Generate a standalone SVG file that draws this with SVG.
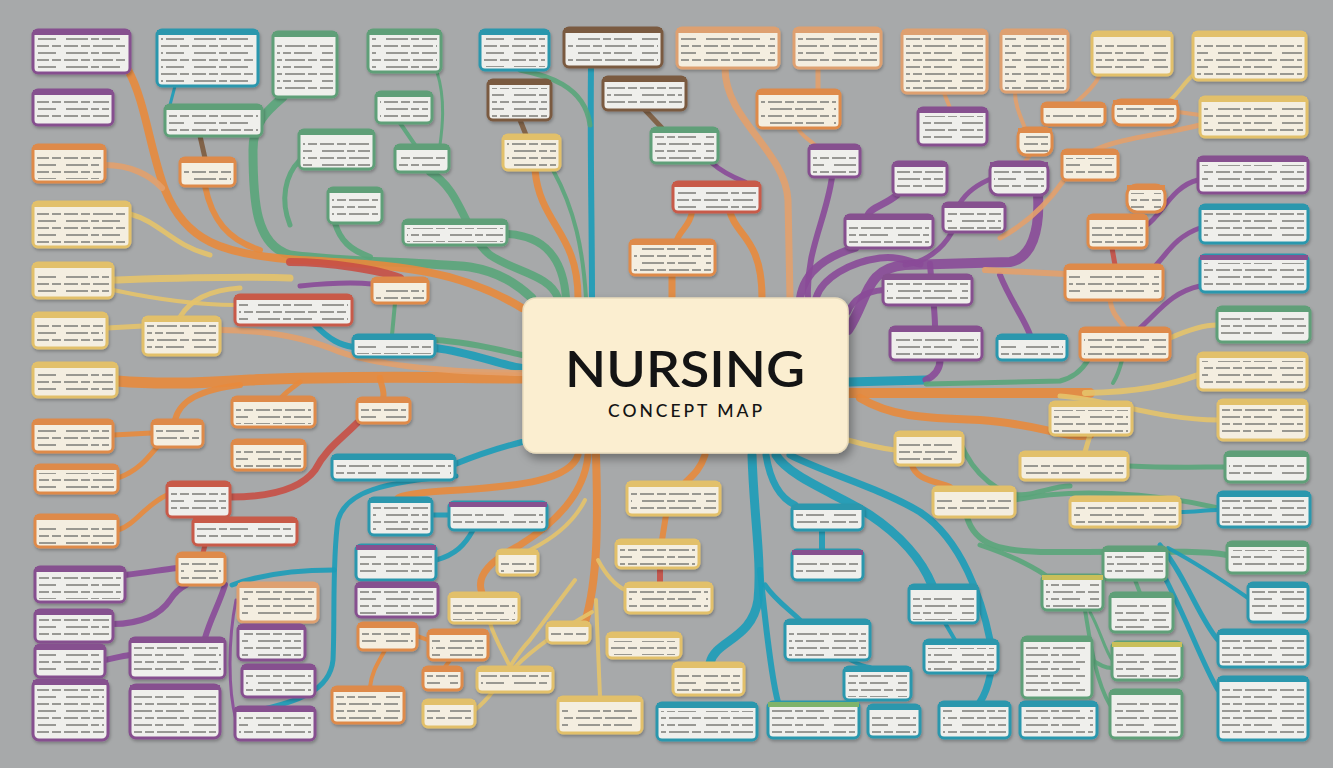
<svg xmlns="http://www.w3.org/2000/svg" width="1333" height="768" viewBox="0 0 1333 768">
<defs>
<pattern id="tp" width="64" height="14" patternUnits="userSpaceOnUse"><path d="M0 4h14M17 4h9M29 4h20M52 4h9M2 11h22M27 11h8M38 11h18" stroke="#7b7b78" stroke-width="1.6"/></pattern>
<filter id="sh" x="-10%" y="-10%" width="125%" height="130%"><feDropShadow dx="3" dy="5" stdDeviation="5" flood-color="#000" flood-opacity="0.35"/></filter>
<filter id="ss" x="-10%" y="-10%" width="125%" height="140%"><feDropShadow dx="1" dy="2" stdDeviation="1.5" flood-color="#000" flood-opacity="0.25"/></filter>
</defs>
<style>
.bx{fill:#efefec;stroke:var(--c);stroke-width:3;filter:url(#ss)}
.y .bx,.pe .bx,.o .bx{fill:#f4eee0}
.hd{fill:var(--c)}
.tx{fill:url(#tp)}
.p{--c:#86508f}.t{--c:#2b97ad}.g{--c:#5f9f78}.o{--c:#de8a4a}.pe{--c:#dea070}.y{--c:#e2c06a}.b{--c:#7a5a40}.r{--c:#c85a48}
.k path{fill:none;stroke-linecap:round;opacity:.9}
.co{stroke:#e8893c}.cy{stroke:#e6c36a}.cg{stroke:#5aa57a}.ct{stroke:#1c9cb8}.cp{stroke:#8a4a98}.cr{stroke:#c84f45}.cb{stroke:#7d5b3e}.cpe{stroke:#e3a06c}
.w3{stroke-width:3}.w4{stroke-width:4}.w5{stroke-width:5}.w6{stroke-width:6}.w7{stroke-width:7}.w8{stroke-width:8}.w9{stroke-width:9}.w10{stroke-width:10}.w11{stroke-width:11}
.ti{font-family:Lato,"Open Sans","Liberation Sans",sans-serif;fill:#141414;text-anchor:middle}
</style>
<rect width="1333" height="768" fill="#a7a9aa"/>
<g id="connectors" class="k">
<path class="ct w6" d="M591,67 C590,150 592,230 592,298"/>
<path class="cg w5" d="M520,70 C545,75 585,85 590,125"/>
<path class="cb w5" d="M520,120 L526,135"/>
<path class="co w7" d="M535,170 C540,225 578,232 578,298"/>
<path class="cg w4" d="M553,170 C575,210 583,250 586,298"/>
<path class="cg w8" d="M507,234 C545,236 563,258 566,298"/>
<path class="cg w8" d="M430,172 C462,190 465,235 490,255 C515,272 550,275 558,298"/>
<path class="cg w9" d="M283,97 C268,110 253,122 253,150 C253,200 255,245 290,255 C340,262 420,262 470,267 C500,272 518,285 532,298"/>
<path class="cg w5" d="M262,122 L254,132"/>
<path class="cg w6" d="M335,223 C340,240 350,250 370,257"/>
<path class="cg w5" d="M300,160 C285,175 280,200 290,225"/>
<path class="cg w4" d="M400,123 L415,145"/>
<path class="cg w3" d="M437,72 C446,100 442,130 440,145"/>
<path class="cb w5" d="M645,110 L662,128"/>
<path class="cp w5" d="M712,163 C722,172 735,178 745,182"/>
<path class="co w6" d="M692,212 C690,226 680,230 677,240"/>
<path class="co w7" d="M672,275 L672,298"/>
<path class="co w7" d="M730,212 C736,236 762,238 762,298"/>
<path class="cpe w7" d="M725,68 C725,120 785,150 788,200 L790,298"/>
<path class="cpe w5" d="M818,68 L818,90"/>
<path class="cpe w4" d="M798,128 C800,135 810,140 815,145"/>
<path class="cp w6" d="M832,177 C826,220 806,250 808,298"/>
<path class="cp w8" d="M800,298 C804,270 830,255 855,248"/>
<path class="cp w7" d="M816,298 C822,278 850,262 880,258 C900,256 910,262 920,264"/>
<path class="cp w10" d="M848,330 C868,300 865,268 905,265 L1010,262 C1032,258 1040,230 1038,195"/>
<path class="cp w7" d="M897,195 C885,205 870,208 868,215"/>
<path class="cp w5" d="M993,178 C975,185 965,195 960,203"/>
<path class="cp w5" d="M952,232 C942,250 925,262 905,265"/>
<path class="cp w6" d="M883,290 C862,292 852,302 848,312"/>
<path class="cp w6" d="M930,264 C932,290 935,310 935,327"/>
<path class="cp w5" d="M1198,180 C1172,186 1162,215 1147,225"/>
<path class="cp w5" d="M1200,228 C1176,236 1166,255 1156,265"/>
<path class="cp w5" d="M1200,286 C1172,292 1160,310 1140,328"/>
<path class="cp w6" d="M1000,275 C1010,300 1025,320 1030,335"/>
<path class="cpe w6" d="M985,270 L1065,274"/>
<path class="cpe w4" d="M1025,128 C1020,115 1015,105 1015,92"/>
<path class="cy w4" d="M1197,72 C1185,80 1180,92 1170,100"/>
<path class="cpe w4" d="M1178,112 L1200,115"/>
<path class="cpe w5" d="M1200,125 C1160,135 1120,138 1095,150"/>
<path class="cpe w4" d="M944,93 L950,108"/>
<path class="cpe w4" d="M1100,75 C1095,85 1085,95 1075,103"/>
<path class="cpe w5" d="M1000,238 C1030,222 1050,200 1064,180"/>
<path class="cpe w4" d="M1030,155 L1025,162"/>
<path class="cr w5" d="M1112,248 L1115,265"/>
<path class="cpe w5" d="M1110,300 C1112,315 1120,320 1125,328"/>
<path class="cy w5" d="M1170,338 C1188,330 1203,325 1217,325"/>
<path class="ct w9" d="M848,382 L926,380"/>
<path class="cp w7" d="M926,380 C936,375 940,368 940,360"/>
<path class="cg w5" d="M926,384 L1060,381 C1072,378 1082,370 1088,360"/>
<path class="cg w4" d="M1113,383 C1118,375 1120,368 1122,360"/>
<path class="co w10" d="M848,393 L1090,393"/>
<path class="cy w6" d="M1085,393 C1140,392 1170,385 1198,375"/>
<path class="cy w5" d="M1060,396 C1110,400 1160,420 1218,420"/>
<path class="co w8" d="M860,398 C890,416 920,418 980,420 C1040,424 1070,440 1090,435"/>
<path class="cy w5" d="M1090,435 L1085,452"/>
<path class="cy w5" d="M848,440 C865,445 880,448 895,450"/>
<path class="co w6" d="M912,465 C916,480 936,481 950,487"/>
<path class="cg w5" d="M960,442 C972,472 1000,500 1030,494 C1048,490 1058,486 1070,486"/>
<path class="cg w5" d="M1128,466 C1170,468 1200,467 1225,467"/>
<path class="cg w5" d="M1015,500 C1070,488 1150,492 1218,508"/>
<path class="cg w6" d="M967,517 C975,545 1000,552 1050,552 C1150,552 1200,550 1227,555"/>
<path class="ct w4" d="M1180,512 C1195,512 1205,510 1218,510"/>
<path class="cg w5" d="M980,545 C1010,555 1030,565 1045,575"/>
<path class="cg w4" d="M1135,580 L1140,593"/>
<path class="cg w4" d="M1085,610 C1090,640 1095,680 1110,705"/>
<path class="cg w3" d="M1090,612 C1100,630 1105,650 1112,660"/>
<path class="ct w5" d="M1160,545 C1185,575 1200,620 1218,640"/>
<path class="ct w4" d="M1168,548 C1200,565 1222,580 1248,598"/>
<path class="ct w5" d="M1150,550 C1180,600 1200,660 1218,690"/>
<path class="cg w4" d="M1092,660 C1100,665 1105,668 1112,668"/>
<path class="ct w9" d="M752,455 C754,520 762,560 758,600 C752,640 715,640 710,663"/>
<path class="ct w6" d="M760,570 C765,620 772,680 778,702"/>
<path class="ct w7" d="M766,455 C770,480 780,498 795,505"/>
<path class="ct w9" d="M776,455 C790,478 840,495 870,515 C900,535 922,560 932,585"/>
<path class="ct w7" d="M790,455 C822,472 880,488 920,512 C962,540 982,600 990,640 C996,662 988,690 980,702"/>
<path class="ct w6" d="M822,530 L822,550"/>
<path class="ct w5" d="M765,585 C775,600 790,610 800,620"/>
<path class="ct w4" d="M850,660 C858,664 864,667 870,667"/>
<path class="ct w4" d="M945,623 L955,640"/>
<path class="co w8" d="M596,455 C598,520 598,580 585,622"/>
<path class="co w7" d="M705,455 C700,470 692,476 686,482"/>
<path class="co w6" d="M666,515 L662,540"/>
<path class="cr w6" d="M660,568 L660,583"/>
<path class="co w7" d="M588,455 C585,490 560,520 520,545 C492,560 475,575 482,593"/>
<path class="co w7" d="M578,455 C570,480 520,486 460,490 C420,492 400,495 398,498"/>
<path class="cy w4" d="M596,600 L600,697"/>
<path class="cy w4" d="M598,560 C606,575 615,585 625,590"/>
<path class="cy w4" d="M592,612 C560,630 532,650 515,667"/>
<path class="cy w4" d="M585,500 C570,530 540,545 530,550"/>
<path class="cy w4" d="M475,710 C500,690 510,660 530,640 C545,620 560,600 575,580"/>
<path class="cy w4" d="M490,623 C495,640 505,655 510,667"/>
<path class="ct w6" d="M522,442 C490,450 470,458 455,464"/>
<path class="ct w5" d="M456,476 C382,482 346,492 338,520 C332,560 335,620 333,660 C330,690 300,702 250,712"/>
<path class="ct w5" d="M334,570 C300,570 262,574 232,585"/>
<path class="ct w5" d="M432,515 L449,515"/>
<path class="ct w5" d="M436,560 C455,555 465,545 473,530"/>
<path class="cr w7" d="M230,497 C270,497 300,490 315,470 C325,450 340,440 357,423"/>
<path class="cp w6" d="M125,575 C150,572 160,570 177,568"/>
<path class="cp w6" d="M113,624 C140,624 160,615 170,600 C175,592 180,588 186,585"/>
<path class="cp w6" d="M105,660 C115,658 122,656 130,655"/>
<path class="cp w6" d="M225,585 C220,602 210,620 205,638"/>
<path class="cp w3" d="M236,600 C228,640 228,690 236,720"/>
<path class="cr w5" d="M205,545 L203,553"/>
<path class="co w5" d="M118,530 C135,525 145,505 167,495"/>
<path class="co w5" d="M118,478 C140,470 150,455 157,447"/>
<path class="co w5" d="M113,435 L152,433"/>
<path class="co w6" d="M175,420 C180,400 200,390 240,385"/>
<path class="co w11" d="M522,378 C450,378 350,375 250,380 C180,385 140,383 117,381"/>
<path class="co w5" d="M300,382 C292,388 285,393 282,397"/>
<path class="co w6" d="M380,378 C382,388 385,393 383,398"/>
<path class="co w8" d="M128,70 C145,100 150,150 165,190 C185,240 220,255 300,260 C400,265 460,270 522,308"/>
<path class="co w6" d="M205,186 C212,220 228,240 260,250"/>
<path class="cpe w6" d="M105,165 C130,165 150,175 162,188"/>
<path class="cy w5" d="M130,214 C160,222 172,245 210,255"/>
<path class="cy w7" d="M113,280 C180,278 240,276 290,278"/>
<path class="cy w4" d="M113,290 C160,300 200,305 235,305"/>
<path class="cy w5" d="M107,328 L143,326"/>
<path class="cy w5" d="M180,317 C190,300 210,290 240,288"/>
<path class="cr w8" d="M290,262 C330,262 380,270 400,278"/>
<path class="cp w5" d="M300,286 C330,283 350,282 372,284"/>
<path class="cg w4" d="M395,303 L392,335"/>
<path class="ct w8" d="M435,348 C470,352 500,365 522,368"/>
<path class="ct w6" d="M315,325 C330,340 340,345 353,347"/>
<path class="cg w6" d="M435,340 C470,342 500,350 522,355"/>
<path class="cpe w6" d="M220,330 C260,330 300,335 340,352 C380,366 450,372 522,373"/>
<path class="ct w3" d="M175,86 L170,105"/>
<path class="cb w5" d="M200,136 L205,158"/>
<path class="co w4" d="M370,687 C372,670 380,660 385,650"/>
<path class="co w4" d="M450,660 L445,667"/>
<path class="co w4" d="M417,636 L428,640"/>
</g>
<g id="n1" class="p"><rect class="bx" x="33" y="30" width="97" height="43" rx="5"/><rect class="hd" x="33" y="30" width="97" height="5"/><rect class="tx" x="37" y="38" width="89" height="32"/></g>
<g id="n2" class="t"><rect class="bx" x="157" y="30" width="101" height="56" rx="5"/><rect class="hd" x="157" y="30" width="101" height="5"/><rect class="tx" x="161" y="38" width="93" height="45"/></g>
<g id="n3" class="g"><rect class="bx" x="273" y="32" width="64" height="65" rx="5"/><rect class="hd" x="273" y="32" width="64" height="5"/><rect class="tx" x="277" y="40" width="56" height="54"/></g>
<g id="n4" class="g"><rect class="bx" x="368" y="30" width="73" height="42" rx="5"/><rect class="hd" x="368" y="30" width="73" height="5"/><rect class="tx" x="372" y="38" width="65" height="31"/></g>
<g id="n5" class="t"><rect class="bx" x="480" y="30" width="69" height="40" rx="5"/><rect class="hd" x="480" y="30" width="69" height="5"/><rect class="tx" x="484" y="38" width="61" height="29"/></g>
<g id="n6" class="b"><rect class="bx" x="564" y="28" width="98" height="39" rx="5"/><rect class="hd" x="564" y="28" width="98" height="5"/><rect class="tx" x="568" y="36" width="90" height="28"/></g>
<g id="n7" class="pe"><rect class="bx" x="677" y="28" width="102" height="40" rx="5"/><rect class="hd" x="677" y="28" width="102" height="5"/><rect class="tx" x="681" y="36" width="94" height="29"/></g>
<g id="n8" class="pe"><rect class="bx" x="794" y="28" width="87" height="40" rx="5"/><rect class="hd" x="794" y="28" width="87" height="5"/><rect class="tx" x="798" y="36" width="79" height="29"/></g>
<g id="n9" class="pe"><rect class="bx" x="902" y="30" width="85" height="63" rx="5"/><rect class="hd" x="902" y="30" width="85" height="5"/><rect class="tx" x="906" y="38" width="77" height="52"/></g>
<g id="n10" class="pe"><rect class="bx" x="1001" y="30" width="67" height="62" rx="5"/><rect class="hd" x="1001" y="30" width="67" height="5"/><rect class="tx" x="1005" y="38" width="59" height="51"/></g>
<g id="n11" class="y"><rect class="bx" x="1092" y="32" width="80" height="43" rx="5"/><rect class="hd" x="1092" y="32" width="80" height="5"/><rect class="tx" x="1096" y="40" width="72" height="32"/></g>
<g id="n12" class="y"><rect class="bx" x="1193" y="32" width="113" height="48" rx="5"/><rect class="hd" x="1193" y="32" width="113" height="5"/><rect class="tx" x="1197" y="40" width="105" height="37"/></g>
<g id="n13" class="p"><rect class="bx" x="33" y="90" width="80" height="35" rx="5"/><rect class="hd" x="33" y="90" width="80" height="5"/><rect class="tx" x="37" y="98" width="72" height="24"/></g>
<g id="n14" class="g"><rect class="bx" x="165" y="105" width="97" height="31" rx="5"/><rect class="hd" x="165" y="105" width="97" height="5"/><rect class="tx" x="169" y="113" width="89" height="20"/></g>
<g id="n15" class="g"><rect class="bx" x="376" y="92" width="56" height="31" rx="5"/><rect class="hd" x="376" y="92" width="56" height="5"/><rect class="tx" x="380" y="100" width="48" height="20"/></g>
<g id="n16" class="b"><rect class="bx" x="488" y="80" width="63" height="40" rx="5"/><rect class="hd" x="488" y="80" width="63" height="5"/><rect class="tx" x="492" y="88" width="55" height="29"/></g>
<g id="n17" class="b"><rect class="bx" x="603" y="77" width="83" height="33" rx="5"/><rect class="hd" x="603" y="77" width="83" height="5"/><rect class="tx" x="607" y="85" width="75" height="22"/></g>
<g id="n18" class="o"><rect class="bx" x="757" y="90" width="83" height="38" rx="5"/><rect class="hd" x="757" y="90" width="83" height="5"/><rect class="tx" x="761" y="98" width="75" height="27"/></g>
<g id="n19" class="p"><rect class="bx" x="918" y="108" width="69" height="37" rx="5"/><rect class="hd" x="918" y="108" width="69" height="5"/><rect class="tx" x="922" y="116" width="61" height="26"/></g>
<g id="n20" class="o"><rect class="bx" x="1042" y="103" width="63" height="22" rx="5"/><rect class="hd" x="1042" y="103" width="63" height="5"/><rect class="tx" x="1046" y="111" width="55" height="11"/></g>
<g id="n21" class="o"><rect class="bx" x="1113" y="100" width="65" height="25" rx="8"/><rect class="hd" x="1113" y="100" width="65" height="5"/><rect class="tx" x="1117" y="108" width="57" height="14"/></g>
<g id="n22" class="y"><rect class="bx" x="1200" y="97" width="107" height="40" rx="5"/><rect class="hd" x="1200" y="97" width="107" height="5"/><rect class="tx" x="1204" y="105" width="99" height="29"/></g>
<g id="n23" class="o"><rect class="bx" x="1018" y="128" width="34" height="27" rx="8"/><rect class="hd" x="1018" y="128" width="34" height="5"/><rect class="tx" x="1022" y="136" width="26" height="16"/></g>
<g id="n24" class="o"><rect class="bx" x="33" y="145" width="72" height="37" rx="5"/><rect class="hd" x="33" y="145" width="72" height="5"/><rect class="tx" x="37" y="153" width="64" height="26"/></g>
<g id="n25" class="o"><rect class="bx" x="180" y="158" width="55" height="28" rx="5"/><rect class="hd" x="180" y="158" width="55" height="5"/><rect class="tx" x="184" y="166" width="47" height="17"/></g>
<g id="n26" class="g"><rect class="bx" x="299" y="130" width="75" height="39" rx="5"/><rect class="hd" x="299" y="130" width="75" height="5"/><rect class="tx" x="303" y="138" width="67" height="28"/></g>
<g id="n27" class="g"><rect class="bx" x="395" y="145" width="54" height="27" rx="5"/><rect class="hd" x="395" y="145" width="54" height="5"/><rect class="tx" x="399" y="153" width="46" height="16"/></g>
<g id="n28" class="y"><rect class="bx" x="503" y="135" width="57" height="35" rx="5"/><rect class="hd" x="503" y="135" width="57" height="5"/><rect class="tx" x="507" y="143" width="49" height="24"/></g>
<g id="n29" class="g"><rect class="bx" x="651" y="128" width="67" height="35" rx="5"/><rect class="hd" x="651" y="128" width="67" height="5"/><rect class="tx" x="655" y="136" width="59" height="24"/></g>
<g id="n30" class="p"><rect class="bx" x="809" y="145" width="51" height="32" rx="5"/><rect class="hd" x="809" y="145" width="51" height="5"/><rect class="tx" x="813" y="153" width="43" height="21"/></g>
<g id="n31" class="p"><rect class="bx" x="893" y="162" width="54" height="33" rx="5"/><rect class="hd" x="893" y="162" width="54" height="5"/><rect class="tx" x="897" y="170" width="46" height="22"/></g>
<g id="n32" class="p"><rect class="bx" x="990" y="162" width="58" height="33" rx="8"/><rect class="hd" x="990" y="162" width="58" height="5"/><rect class="tx" x="994" y="170" width="50" height="22"/></g>
<g id="n33" class="o"><rect class="bx" x="1062" y="150" width="56" height="30" rx="5"/><rect class="hd" x="1062" y="150" width="56" height="5"/><rect class="tx" x="1066" y="158" width="48" height="19"/></g>
<g id="n34" class="o"><rect class="bx" x="1127" y="185" width="38" height="27" rx="10"/><rect class="hd" x="1127" y="185" width="38" height="5"/><rect class="tx" x="1131" y="193" width="30" height="16"/></g>
<g id="n35" class="p"><rect class="bx" x="1198" y="157" width="110" height="36" rx="5"/><rect class="hd" x="1198" y="157" width="110" height="5"/><rect class="tx" x="1202" y="165" width="102" height="25"/></g>
<g id="n36" class="r"><rect class="bx" x="673" y="182" width="87" height="30" rx="5"/><rect class="hd" x="673" y="182" width="87" height="5"/><rect class="tx" x="677" y="190" width="79" height="19"/></g>
<g id="n37" class="g"><rect class="bx" x="328" y="188" width="54" height="35" rx="5"/><rect class="hd" x="328" y="188" width="54" height="5"/><rect class="tx" x="332" y="196" width="46" height="24"/></g>
<g id="n38" class="g"><rect class="bx" x="403" y="220" width="104" height="25" rx="5"/><rect class="hd" x="403" y="220" width="104" height="5"/><rect class="tx" x="407" y="228" width="96" height="14"/></g>
<g id="n39" class="y"><rect class="bx" x="33" y="202" width="97" height="45" rx="5"/><rect class="hd" x="33" y="202" width="97" height="5"/><rect class="tx" x="37" y="210" width="89" height="34"/></g>
<g id="n40" class="p"><rect class="bx" x="845" y="215" width="88" height="33" rx="5"/><rect class="hd" x="845" y="215" width="88" height="5"/><rect class="tx" x="849" y="223" width="80" height="22"/></g>
<g id="n41" class="p"><rect class="bx" x="943" y="203" width="62" height="29" rx="5"/><rect class="hd" x="943" y="203" width="62" height="5"/><rect class="tx" x="947" y="211" width="54" height="18"/></g>
<g id="n42" class="o"><rect class="bx" x="1088" y="215" width="59" height="33" rx="5"/><rect class="hd" x="1088" y="215" width="59" height="5"/><rect class="tx" x="1092" y="223" width="51" height="22"/></g>
<g id="n43" class="t"><rect class="bx" x="1200" y="205" width="108" height="38" rx="5"/><rect class="hd" x="1200" y="205" width="108" height="5"/><rect class="tx" x="1204" y="213" width="100" height="27"/></g>
<g id="n44" class="o"><rect class="bx" x="630" y="240" width="85" height="35" rx="5"/><rect class="hd" x="630" y="240" width="85" height="5"/><rect class="tx" x="634" y="248" width="77" height="24"/></g>
<g id="n45" class="t"><rect class="bx" x="1200" y="255" width="108" height="37" rx="5"/><rect class="hd" x="1200" y="255" width="108" height="5" style="fill:#86508f"/><rect class="tx" x="1204" y="263" width="100" height="26"/></g>
<g id="n46" class="y"><rect class="bx" x="33" y="263" width="80" height="35" rx="5"/><rect class="hd" x="33" y="263" width="80" height="5"/><rect class="tx" x="37" y="271" width="72" height="24"/></g>
<g id="n47" class="o"><rect class="bx" x="1065" y="265" width="98" height="35" rx="5"/><rect class="hd" x="1065" y="265" width="98" height="5"/><rect class="tx" x="1069" y="273" width="90" height="24"/></g>
<g id="n48" class="p"><rect class="bx" x="883" y="275" width="89" height="30" rx="5"/><rect class="hd" x="883" y="275" width="89" height="5"/><rect class="tx" x="887" y="283" width="81" height="19"/></g>
<g id="n49" class="o"><rect class="bx" x="372" y="278" width="56" height="25" rx="5"/><rect class="hd" x="372" y="278" width="56" height="5"/><rect class="tx" x="376" y="286" width="48" height="14"/></g>
<g id="n50" class="r"><rect class="bx" x="235" y="295" width="117" height="30" rx="5"/><rect class="hd" x="235" y="295" width="117" height="5"/><rect class="tx" x="239" y="303" width="109" height="19"/></g>
<g id="n51" class="g"><rect class="bx" x="1217" y="307" width="93" height="35" rx="5"/><rect class="hd" x="1217" y="307" width="93" height="5"/><rect class="tx" x="1221" y="315" width="85" height="24"/></g>
<g id="n52" class="y"><rect class="bx" x="33" y="313" width="74" height="35" rx="5"/><rect class="hd" x="33" y="313" width="74" height="5"/><rect class="tx" x="37" y="321" width="66" height="24"/></g>
<g id="n53" class="y"><rect class="bx" x="143" y="317" width="77" height="38" rx="5"/><rect class="hd" x="143" y="317" width="77" height="5"/><rect class="tx" x="147" y="325" width="69" height="27"/></g>
<g id="n54" class="p"><rect class="bx" x="890" y="327" width="92" height="33" rx="5"/><rect class="hd" x="890" y="327" width="92" height="5"/><rect class="tx" x="894" y="335" width="84" height="22"/></g>
<g id="n55" class="t"><rect class="bx" x="997" y="335" width="70" height="25" rx="5"/><rect class="hd" x="997" y="335" width="70" height="5"/><rect class="tx" x="1001" y="343" width="62" height="14"/></g>
<g id="n56" class="o"><rect class="bx" x="1080" y="328" width="90" height="32" rx="5"/><rect class="hd" x="1080" y="328" width="90" height="5"/><rect class="tx" x="1084" y="336" width="82" height="21"/></g>
<g id="n57" class="t"><rect class="bx" x="353" y="335" width="82" height="22" rx="5"/><rect class="hd" x="353" y="335" width="82" height="5"/><rect class="tx" x="357" y="343" width="74" height="11"/></g>
<g id="n58" class="y"><rect class="bx" x="33" y="363" width="84" height="34" rx="5"/><rect class="hd" x="33" y="363" width="84" height="5"/><rect class="tx" x="37" y="371" width="76" height="23"/></g>
<g id="n59" class="y"><rect class="bx" x="1198" y="353" width="109" height="37" rx="5"/><rect class="hd" x="1198" y="353" width="109" height="5"/><rect class="tx" x="1202" y="361" width="101" height="26"/></g>
<g id="n60" class="o"><rect class="bx" x="232" y="397" width="83" height="30" rx="5"/><rect class="hd" x="232" y="397" width="83" height="5"/><rect class="tx" x="236" y="405" width="75" height="19"/></g>
<g id="n61" class="o"><rect class="bx" x="357" y="398" width="53" height="25" rx="5"/><rect class="hd" x="357" y="398" width="53" height="5"/><rect class="tx" x="361" y="406" width="45" height="14"/></g>
<g id="n62" class="y"><rect class="bx" x="1218" y="400" width="89" height="40" rx="5"/><rect class="hd" x="1218" y="400" width="89" height="5"/><rect class="tx" x="1222" y="408" width="81" height="29"/></g>
<g id="n63" class="y"><rect class="bx" x="1050" y="402" width="82" height="33" rx="5"/><rect class="hd" x="1050" y="402" width="82" height="5"/><rect class="tx" x="1054" y="410" width="74" height="22"/></g>
<g id="n64" class="o"><rect class="bx" x="152" y="420" width="51" height="27" rx="5"/><rect class="hd" x="152" y="420" width="51" height="5"/><rect class="tx" x="156" y="428" width="43" height="16"/></g>
<g id="n65" class="o"><rect class="bx" x="33" y="420" width="80" height="32" rx="5"/><rect class="hd" x="33" y="420" width="80" height="5"/><rect class="tx" x="37" y="428" width="72" height="21"/></g>
<g id="n66" class="y"><rect class="bx" x="895" y="432" width="68" height="33" rx="5"/><rect class="hd" x="895" y="432" width="68" height="5"/><rect class="tx" x="899" y="440" width="60" height="22"/></g>
<g id="n67" class="o"><rect class="bx" x="232" y="440" width="73" height="30" rx="5"/><rect class="hd" x="232" y="440" width="73" height="5"/><rect class="tx" x="236" y="448" width="65" height="19"/></g>
<g id="n68" class="y"><rect class="bx" x="1020" y="452" width="108" height="28" rx="5"/><rect class="hd" x="1020" y="452" width="108" height="5"/><rect class="tx" x="1024" y="460" width="100" height="17"/></g>
<g id="n69" class="g"><rect class="bx" x="1225" y="452" width="83" height="30" rx="5"/><rect class="hd" x="1225" y="452" width="83" height="5"/><rect class="tx" x="1229" y="460" width="75" height="19"/></g>
<g id="n70" class="t"><rect class="bx" x="332" y="455" width="123" height="25" rx="5"/><rect class="hd" x="332" y="455" width="123" height="5"/><rect class="tx" x="336" y="463" width="115" height="14"/></g>
<g id="n71" class="o"><rect class="bx" x="35" y="465" width="83" height="28" rx="5"/><rect class="hd" x="35" y="465" width="83" height="5"/><rect class="tx" x="39" y="473" width="75" height="17"/></g>
<g id="n72" class="y"><rect class="bx" x="933" y="487" width="82" height="30" rx="5"/><rect class="hd" x="933" y="487" width="82" height="5"/><rect class="tx" x="937" y="495" width="74" height="19"/></g>
<g id="n73" class="y"><rect class="bx" x="627" y="482" width="93" height="33" rx="5"/><rect class="hd" x="627" y="482" width="93" height="5"/><rect class="tx" x="631" y="490" width="85" height="22"/></g>
<g id="n74" class="r"><rect class="bx" x="167" y="482" width="63" height="35" rx="5"/><rect class="hd" x="167" y="482" width="63" height="5"/><rect class="tx" x="171" y="490" width="55" height="24"/></g>
<g id="n75" class="y"><rect class="bx" x="1070" y="497" width="110" height="30" rx="5"/><rect class="hd" x="1070" y="497" width="110" height="5"/><rect class="tx" x="1074" y="505" width="102" height="19"/></g>
<g id="n76" class="t"><rect class="bx" x="1218" y="492" width="92" height="35" rx="5"/><rect class="hd" x="1218" y="492" width="92" height="5"/><rect class="tx" x="1222" y="500" width="84" height="24"/></g>
<g id="n77" class="t"><rect class="bx" x="369" y="498" width="63" height="37" rx="5"/><rect class="hd" x="369" y="498" width="63" height="5"/><rect class="tx" x="373" y="506" width="55" height="26"/></g>
<g id="n78" class="t"><rect class="bx" x="449" y="502" width="98" height="28" rx="5"/><rect class="hd" x="449" y="502" width="98" height="5" style="fill:#86508f"/><rect class="tx" x="453" y="510" width="90" height="17"/></g>
<g id="n79" class="t"><rect class="bx" x="792" y="505" width="71" height="25" rx="5"/><rect class="hd" x="792" y="505" width="71" height="5"/><rect class="tx" x="796" y="513" width="63" height="14"/></g>
<g id="n80" class="r"><rect class="bx" x="193" y="518" width="104" height="27" rx="5"/><rect class="hd" x="193" y="518" width="104" height="5"/><rect class="tx" x="197" y="526" width="96" height="16"/></g>
<g id="n81" class="o"><rect class="bx" x="35" y="515" width="83" height="32" rx="5"/><rect class="hd" x="35" y="515" width="83" height="5"/><rect class="tx" x="39" y="523" width="75" height="21"/></g>
<g id="n82" class="t"><rect class="bx" x="356" y="545" width="80" height="35" rx="5"/><rect class="hd" x="356" y="545" width="80" height="5" style="fill:#86508f"/><rect class="tx" x="360" y="553" width="72" height="24"/></g>
<g id="n83" class="y"><rect class="bx" x="497" y="550" width="41" height="25" rx="5"/><rect class="hd" x="497" y="550" width="41" height="5"/><rect class="tx" x="501" y="558" width="33" height="14"/></g>
<g id="n84" class="y"><rect class="bx" x="616" y="540" width="83" height="28" rx="5"/><rect class="hd" x="616" y="540" width="83" height="5"/><rect class="tx" x="620" y="548" width="75" height="17"/></g>
<g id="n85" class="g"><rect class="bx" x="1103" y="547" width="64" height="33" rx="5"/><rect class="hd" x="1103" y="547" width="64" height="5"/><rect class="tx" x="1107" y="555" width="56" height="22"/></g>
<g id="n86" class="t"><rect class="bx" x="792" y="550" width="71" height="30" rx="5"/><rect class="hd" x="792" y="550" width="71" height="5" style="fill:#86508f"/><rect class="tx" x="796" y="558" width="63" height="19"/></g>
<g id="n87" class="g"><rect class="bx" x="1227" y="542" width="81" height="31" rx="5"/><rect class="hd" x="1227" y="542" width="81" height="5"/><rect class="tx" x="1231" y="550" width="73" height="20"/></g>
<g id="n88" class="o"><rect class="bx" x="177" y="553" width="48" height="32" rx="5"/><rect class="hd" x="177" y="553" width="48" height="5"/><rect class="tx" x="181" y="561" width="40" height="21"/></g>
<g id="n89" class="p"><rect class="bx" x="35" y="567" width="90" height="35" rx="5"/><rect class="hd" x="35" y="567" width="90" height="5"/><rect class="tx" x="39" y="575" width="82" height="24"/></g>
<g id="n90" class="g"><rect class="bx" x="1042" y="575" width="61" height="35" rx="5"/><rect class="hd" x="1042" y="575" width="61" height="5" style="fill:#c9bf5a"/><rect class="tx" x="1046" y="583" width="53" height="24"/></g>
<g id="n91" class="pe"><rect class="bx" x="238" y="583" width="80" height="39" rx="5"/><rect class="hd" x="238" y="583" width="80" height="5"/><rect class="tx" x="242" y="591" width="72" height="28"/></g>
<g id="n92" class="p"><rect class="bx" x="356" y="583" width="82" height="34" rx="5"/><rect class="hd" x="356" y="583" width="82" height="5"/><rect class="tx" x="360" y="591" width="74" height="23"/></g>
<g id="n93" class="y"><rect class="bx" x="625" y="583" width="87" height="30" rx="5"/><rect class="hd" x="625" y="583" width="87" height="5"/><rect class="tx" x="629" y="591" width="79" height="19"/></g>
<g id="n94" class="t"><rect class="bx" x="909" y="585" width="69" height="38" rx="5"/><rect class="hd" x="909" y="585" width="69" height="5"/><rect class="tx" x="913" y="593" width="61" height="27"/></g>
<g id="n95" class="y"><rect class="bx" x="449" y="593" width="70" height="30" rx="5"/><rect class="hd" x="449" y="593" width="70" height="5"/><rect class="tx" x="453" y="601" width="62" height="19"/></g>
<g id="n96" class="g"><rect class="bx" x="1110" y="593" width="63" height="39" rx="5"/><rect class="hd" x="1110" y="593" width="63" height="5"/><rect class="tx" x="1114" y="601" width="55" height="28"/></g>
<g id="n97" class="t"><rect class="bx" x="1248" y="583" width="60" height="39" rx="5"/><rect class="hd" x="1248" y="583" width="60" height="5"/><rect class="tx" x="1252" y="591" width="52" height="28"/></g>
<g id="n98" class="p"><rect class="bx" x="35" y="610" width="78" height="32" rx="5"/><rect class="hd" x="35" y="610" width="78" height="5"/><rect class="tx" x="39" y="618" width="70" height="21"/></g>
<g id="n99" class="t"><rect class="bx" x="785" y="620" width="85" height="40" rx="5"/><rect class="hd" x="785" y="620" width="85" height="5"/><rect class="tx" x="789" y="628" width="77" height="29"/></g>
<g id="n100" class="y"><rect class="bx" x="547" y="622" width="43" height="21" rx="5"/><rect class="hd" x="547" y="622" width="43" height="5"/><rect class="tx" x="551" y="630" width="35" height="10"/></g>
<g id="n101" class="o"><rect class="bx" x="358" y="623" width="59" height="27" rx="5"/><rect class="hd" x="358" y="623" width="59" height="5"/><rect class="tx" x="362" y="631" width="51" height="16"/></g>
<g id="n102" class="p"><rect class="bx" x="238" y="625" width="67" height="35" rx="5"/><rect class="hd" x="238" y="625" width="67" height="5"/><rect class="tx" x="242" y="633" width="59" height="24"/></g>
<g id="n103" class="o"><rect class="bx" x="428" y="630" width="60" height="30" rx="5"/><rect class="hd" x="428" y="630" width="60" height="5"/><rect class="tx" x="432" y="638" width="52" height="19"/></g>
<g id="n104" class="y"><rect class="bx" x="607" y="633" width="74" height="25" rx="5"/><rect class="hd" x="607" y="633" width="74" height="5"/><rect class="tx" x="611" y="641" width="66" height="14"/></g>
<g id="n105" class="t"><rect class="bx" x="1218" y="630" width="90" height="37" rx="5"/><rect class="hd" x="1218" y="630" width="90" height="5"/><rect class="tx" x="1222" y="638" width="82" height="26"/></g>
<g id="n106" class="p"><rect class="bx" x="130" y="638" width="95" height="40" rx="5"/><rect class="hd" x="130" y="638" width="95" height="5"/><rect class="tx" x="134" y="646" width="87" height="29"/></g>
<g id="n107" class="t"><rect class="bx" x="924" y="640" width="74" height="33" rx="5"/><rect class="hd" x="924" y="640" width="74" height="5"/><rect class="tx" x="928" y="648" width="66" height="22"/></g>
<g id="n108" class="g"><rect class="bx" x="1022" y="637" width="70" height="61" rx="5"/><rect class="hd" x="1022" y="637" width="70" height="5"/><rect class="tx" x="1026" y="645" width="62" height="50"/></g>
<g id="n109" class="g"><rect class="bx" x="1112" y="642" width="70" height="38" rx="5"/><rect class="hd" x="1112" y="642" width="70" height="5" style="fill:#c9bf5a"/><rect class="tx" x="1116" y="650" width="62" height="27"/></g>
<g id="n110" class="p"><rect class="bx" x="35" y="645" width="70" height="32" rx="5"/><rect class="hd" x="35" y="645" width="70" height="5"/><rect class="tx" x="39" y="653" width="62" height="21"/></g>
<g id="n111" class="p"><rect class="bx" x="242" y="665" width="73" height="32" rx="5"/><rect class="hd" x="242" y="665" width="73" height="5"/><rect class="tx" x="246" y="673" width="65" height="21"/></g>
<g id="n112" class="o"><rect class="bx" x="423" y="667" width="39" height="23" rx="5"/><rect class="hd" x="423" y="667" width="39" height="5"/><rect class="tx" x="427" y="675" width="31" height="12"/></g>
<g id="n113" class="y"><rect class="bx" x="477" y="667" width="76" height="25" rx="5"/><rect class="hd" x="477" y="667" width="76" height="5"/><rect class="tx" x="481" y="675" width="68" height="14"/></g>
<g id="n114" class="y"><rect class="bx" x="673" y="663" width="71" height="32" rx="5"/><rect class="hd" x="673" y="663" width="71" height="5"/><rect class="tx" x="677" y="671" width="63" height="21"/></g>
<g id="n115" class="t"><rect class="bx" x="844" y="667" width="67" height="33" rx="5"/><rect class="hd" x="844" y="667" width="67" height="5"/><rect class="tx" x="848" y="675" width="59" height="22"/></g>
<g id="n116" class="t"><rect class="bx" x="1218" y="677" width="90" height="63" rx="5"/><rect class="hd" x="1218" y="677" width="90" height="5"/><rect class="tx" x="1222" y="685" width="82" height="52"/></g>
<g id="n117" class="p"><rect class="bx" x="33" y="680" width="75" height="60" rx="6"/><rect class="hd" x="33" y="680" width="75" height="5"/><rect class="tx" x="37" y="688" width="67" height="49"/></g>
<g id="n118" class="p"><rect class="bx" x="130" y="685" width="90" height="53" rx="6"/><rect class="hd" x="130" y="685" width="90" height="5"/><rect class="tx" x="134" y="693" width="82" height="42"/></g>
<g id="n119" class="o"><rect class="bx" x="332" y="687" width="72" height="36" rx="5"/><rect class="hd" x="332" y="687" width="72" height="5"/><rect class="tx" x="336" y="695" width="64" height="25"/></g>
<g id="n120" class="g"><rect class="bx" x="1110" y="690" width="72" height="48" rx="5"/><rect class="hd" x="1110" y="690" width="72" height="5"/><rect class="tx" x="1114" y="698" width="64" height="37"/></g>
<g id="n121" class="y"><rect class="bx" x="423" y="700" width="52" height="27" rx="5"/><rect class="hd" x="423" y="700" width="52" height="5"/><rect class="tx" x="427" y="708" width="44" height="16"/></g>
<g id="n122" class="y"><rect class="bx" x="558" y="697" width="84" height="36" rx="5"/><rect class="hd" x="558" y="697" width="84" height="5"/><rect class="tx" x="562" y="705" width="76" height="25"/></g>
<g id="n123" class="t"><rect class="bx" x="657" y="703" width="100" height="37" rx="5"/><rect class="hd" x="657" y="703" width="100" height="5"/><rect class="tx" x="661" y="711" width="92" height="26"/></g>
<g id="n124" class="t"><rect class="bx" x="768" y="702" width="91" height="36" rx="5"/><rect class="hd" x="768" y="702" width="91" height="5" style="fill:#7fb36a"/><rect class="tx" x="772" y="710" width="83" height="25"/></g>
<g id="n125" class="t"><rect class="bx" x="868" y="705" width="52" height="32" rx="5"/><rect class="hd" x="868" y="705" width="52" height="5"/><rect class="tx" x="872" y="713" width="44" height="21"/></g>
<g id="n126" class="t"><rect class="bx" x="939" y="702" width="71" height="36" rx="5"/><rect class="hd" x="939" y="702" width="71" height="5"/><rect class="tx" x="943" y="710" width="63" height="25"/></g>
<g id="n127" class="t"><rect class="bx" x="1020" y="702" width="77" height="36" rx="5"/><rect class="hd" x="1020" y="702" width="77" height="5"/><rect class="tx" x="1024" y="710" width="69" height="25"/></g>
<g id="n128" class="p"><rect class="bx" x="235" y="707" width="80" height="33" rx="5"/><rect class="hd" x="235" y="707" width="80" height="5"/><rect class="tx" x="239" y="715" width="72" height="22"/></g>
<g id="center">
<rect x="523" y="298" width="325" height="155" rx="13" fill="#fbeed0" stroke="#e9dcbc" stroke-width="1.5" filter="url(#sh)"/>
<text class="ti" x="685" y="387" font-size="49" font-weight="600" textLength="240" lengthAdjust="spacingAndGlyphs">NURSING</text>
<text class="ti" x="685" y="417" font-size="17.5" font-weight="500" textLength="154" lengthAdjust="spacing">CONCEPT MAP</text>
</g>
</svg>
